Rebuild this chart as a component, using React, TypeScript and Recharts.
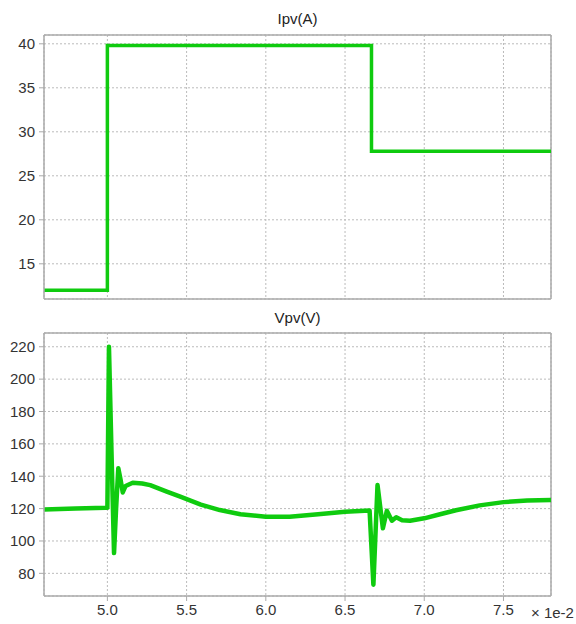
import React from 'react';
import { LineChart, Line, XAxis, YAxis, CartesianGrid, ReferenceLine } from 'recharts';

// time in units of 1e-2 s
const ipvTime = [4.6, 5.0, 5.0, 6.667, 6.667, 7.8];
const ipvValues = [12, 12, 39.8, 39.8, 27.8, 27.8];

const vpvTime = [
  4.6, 4.8, 4.99, 5.0, 5.005, 5.01, 5.026, 5.042, 5.055, 5.069, 5.083, 5.097, 5.115, 5.16,
  5.22, 5.27, 5.375, 5.46, 5.59, 5.71, 5.84, 6.0, 6.15, 6.33, 6.5, 6.655, 6.679, 6.705,
  6.739, 6.764, 6.796, 6.823, 6.86, 6.91, 7.0, 7.1, 7.2, 7.35, 7.5, 7.65, 7.8,
];
const vpvValues = [
  119.5, 120, 120.5, 120.5, 170, 220, 155, 92.5, 120, 145, 138, 130, 134, 136,
  135.5, 134.5, 130.5, 127.4, 122.5, 119.1, 116.5, 115, 115, 116.5, 118, 118.8, 73, 134.6,
  107.8, 118.7, 112.5, 114.6, 112.8, 112.5, 114, 116.5, 119, 122, 124, 125, 125.3,
];

const xTicks = [5.0, 5.5, 6.0, 6.5, 7.0, 7.5];
const ipvTicks = [15, 20, 25, 30, 35, 40];
const vpvTicks = [80, 100, 120, 140, 160, 180, 200, 220];

const ipvData = ipvTime.map((t, i) => ({ t, v: ipvValues[i] }));
const vpvData = vpvTime.map((t, i) => ({ t, v: vpvValues[i] }));

const FONT = '"Liberation Sans", Arial, sans-serif';
const GREEN = '#0fcb0f';
const AXIS = '#aaaaaa';
const tickStyle = { fontSize: 15, fill: '#333', fontFamily: FONT };

const titleStyle: React.CSSProperties = {
  position: 'absolute',
  left: 44,
  width: 507,
  textAlign: 'center',
  fontFamily: FONT,
  fontSize: 15,
  color: '#222',
};

export default function App() {
  return (
    <div style={{ position: 'absolute', left: 0, top: 0, width: 576, height: 624, background: '#fff' }}>
      <div style={{ ...titleStyle, top: 10 }}>Ipv(A)</div>
      <div style={{ ...titleStyle, top: 309 }}>Vpv(V)</div>

      <div style={{ position: 'absolute', left: 0, top: 0 }}>
        <LineChart width={576} height={310} data={ipvData} margin={{ top: 35, right: 25, left: 0, bottom: 11 }}>
          <CartesianGrid stroke="#bbb" strokeDasharray="2 2" />
          <XAxis dataKey="t" type="number" domain={[4.6, 7.8]} ticks={xTicks} hide allowDataOverflow />
          <YAxis
            type="number"
            domain={[11, 41]}
            ticks={ipvTicks}
            width={44}
            tick={tickStyle}
            tickSize={5}
            tickMargin={4}
            axisLine={{ stroke: AXIS, strokeWidth: 1.5 }}
            tickLine={{ stroke: AXIS }}
            allowDataOverflow
          />
          <ReferenceLine y={11} stroke={AXIS} strokeWidth={1.5} />
          <ReferenceLine y={41} stroke={AXIS} strokeWidth={1.5} />
          <ReferenceLine x={7.8} stroke={AXIS} strokeWidth={1.5} />
          <Line type="linear" dataKey="v" stroke={GREEN} strokeWidth={3.5} dot={false} isAnimationActive={false} />
        </LineChart>
      </div>

      <div style={{ position: 'absolute', left: 0, top: 310 }}>
        <LineChart width={576} height={314} data={vpvData} margin={{ top: 23, right: 25, left: 0, bottom: 0 }}>
          <CartesianGrid stroke="#bbb" strokeDasharray="2 2" />
          <XAxis
            dataKey="t"
            type="number"
            domain={[4.6, 7.8]}
            ticks={xTicks}
            height={28}
            tick={tickStyle}
            tickFormatter={(v: number) => v.toFixed(1)}
            tickSize={5}
            tickMargin={3}
            axisLine={{ stroke: AXIS, strokeWidth: 1.5 }}
            tickLine={{ stroke: AXIS }}
            allowDataOverflow
          />
          <YAxis
            type="number"
            domain={[66, 228.5]}
            ticks={vpvTicks}
            width={44}
            tick={tickStyle}
            tickSize={5}
            tickMargin={4}
            axisLine={{ stroke: AXIS, strokeWidth: 1.5 }}
            tickLine={{ stroke: AXIS }}
            allowDataOverflow
          />
          <ReferenceLine y={228.5} stroke={AXIS} strokeWidth={1.5} />
          <ReferenceLine x={7.8} stroke={AXIS} strokeWidth={1.5} />
          <Line
            type="linear"
            dataKey="v"
            stroke={GREEN}
            strokeWidth={4.5}
            strokeLinejoin="round"
            dot={false}
            isAnimationActive={false}
          />
        </LineChart>
      </div>

      <div style={{ position: 'absolute', left: 531, top: 604, fontFamily: FONT, fontSize: 15, color: '#333' }}>
        × 1e-2
      </div>
    </div>
  );
}
